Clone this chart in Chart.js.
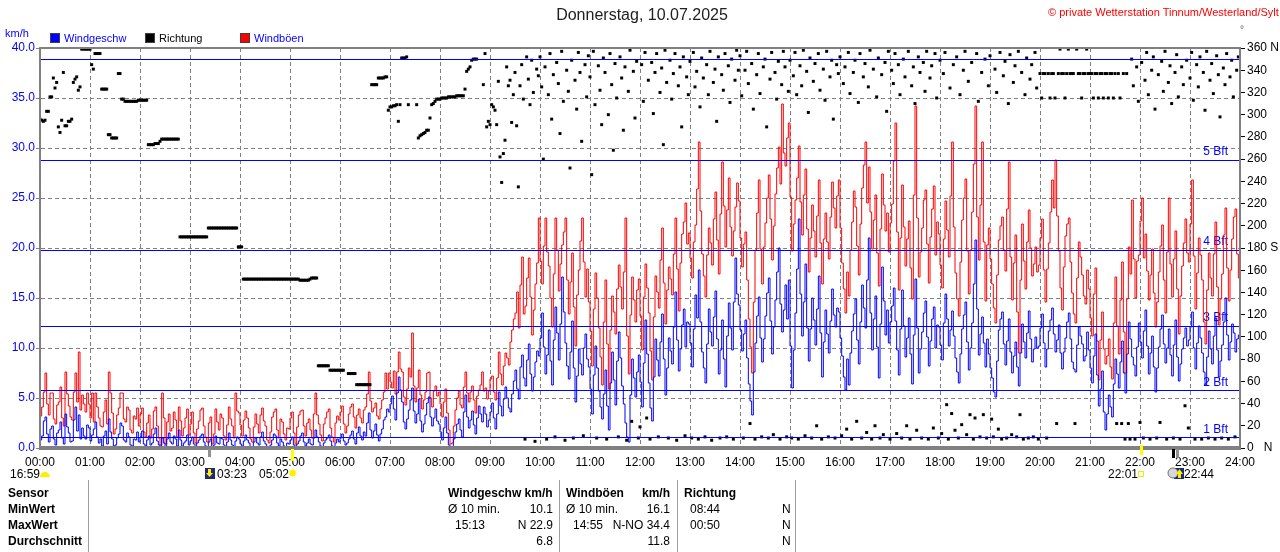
<!DOCTYPE html>
<html><head><meta charset="utf-8">
<script src="https://cdn.jsdelivr.net/npm/chart.js@4/dist/chart.umd.min.js"></script>
<style>
html,body{margin:0;padding:0;background:#fff;width:1280px;height:552px;overflow:hidden;font-family:"Liberation Sans",Arial,sans-serif;}
#c{position:absolute;left:0;top:0;}
.t{position:absolute;white-space:pre;font-size:12px;line-height:14px;color:#000;}
.b{font-weight:bold;}
.vl{position:absolute;top:480px;height:72px;width:1px;background:#a0a0a0;}
.sq{position:absolute;width:10px;height:10px;top:33px;box-sizing:border-box;border:1px solid #404040;}
</style></head>
<body>
<canvas id="c" width="1280" height="552"></canvas>
<div class="t" style="left:542px;width:200px;text-align:center;top:6px;font-size:16px;line-height:18px;color:#202020">Donnerstag, 10.07.2025</div>
<div class="t" style="left:1048px;top:5px;font-size:11px;color:#ff0000">© private Wetterstation Tinnum/Westerland/Sylt</div>
<div class="t" style="left:1240px;top:23px;font-size:10px;color:#606060">°</div>
<div class="t" style="left:5px;top:26px;color:#0000ff;font-size:11px">km/h</div>
<div class="sq" style="left:50px;background:#0000ff"></div>
<div class="t" style="left:64px;top:31px;color:#0000ff;font-size:11px">Windgeschw</div>
<div class="sq" style="left:145px;background:#000"></div>
<div class="t" style="left:159px;top:31px;font-size:11px">Richtung</div>
<div class="sq" style="left:240px;background:#ff0000"></div>
<div class="t" style="left:254px;top:31px;color:#0000ff;font-size:11px">Windböen</div>

<div class="t" style="left:10px;top:467px">16:59</div>
<div class="t" style="left:217px;top:467px">03:23</div>
<div class="t" style="left:259px;top:467px">05:02</div>
<div class="t" style="left:1108px;top:467px">22:01</div>
<div class="t" style="left:1184px;top:467px">22:44</div>

<div class="vl" style="left:88px"></div>
<div class="vl" style="left:559px"></div>
<div class="vl" style="left:677px"></div>
<div class="vl" style="left:795px"></div>
<div class="t b" style="left:8px;top:486px">Sensor</div>
<div class="t b" style="left:8px;top:502px">MinWert</div>
<div class="t b" style="left:8px;top:518px">MaxWert</div>
<div class="t b" style="left:8px;top:534px">Durchschnitt</div>
<div class="t b" style="left:448px;top:486px">Windgeschw km/h</div>
<div class="t" style="left:448px;top:502px">Ø 10 min.</div>
<div class="t" style="right:727px;top:502px">10.1</div>
<div class="t" style="left:455px;top:518px">15:13</div>
<div class="t" style="right:727px;top:518px">N 22.9</div>
<div class="t" style="right:727px;top:534px">6.8</div>
<div class="t b" style="left:566px;top:486px">Windböen</div>
<div class="t b" style="right:610px;top:486px">km/h</div>
<div class="t" style="left:566px;top:502px">Ø 10 min.</div>
<div class="t" style="right:610px;top:502px">16.1</div>
<div class="t" style="left:573px;top:518px">14:55</div>
<div class="t" style="right:610px;top:518px">N-NO 34.4</div>
<div class="t" style="right:610px;top:534px">11.8</div>
<div class="t b" style="left:684px;top:486px">Richtung</div>
<div class="t" style="left:690px;top:502px">08:44</div>
<div class="t" style="left:782px;top:502px">N</div>
<div class="t" style="left:690px;top:518px">00:50</div>
<div class="t" style="left:782px;top:518px">N</div>
<div class="t" style="left:782px;top:534px">N</div>

<script>
// time step (minutes) of the speed / gust series and of the direction series
const speedStep = 2;
const dirStep = 2;

// Windgeschw (km/h), 2-minute values, 30 per hour, last = 24:00
const windSpeed = [
2.5,0.8,1.2,2.7,3.1,1.4,0.6,1.9,2.2,0.9,0.3,1.5,1.8,2.6,1.0,0.4,3.4,2.1,1.5,0.6,0.7,2.8,4.1,1.7,3.3,0.9,2.0,1.2,0.9,2.3,
2.0,0.7,1.3,1.9,2.6,1.1,0.5,0.9,0.2,1.2,1.7,0.4,2.9,1.6,0.9,0.2,0.3,1.0,1.4,2.5,2.2,0.8,0.6,1.5,1.1,0.3,0.2,0.9,0.8,1.6,
0.6,1.1,1.7,0.4,0.2,0.8,1.2,0.3,0.5,1.4,2.0,0.7,0.3,0.0,1.0,0.5,0.0,0.9,1.5,0.6,0.4,1.2,0.9,0.2,1.8,0.8,0.2,0.5,0.7,1.3,
0.3,0.7,1.1,0.4,0.0,0.5,0.8,1.2,1.4,0.6,0.2,0.0,0.6,0.9,0.0,0.3,1.2,0.5,0.4,1.0,0.9,0.3,0.1,0.6,1.5,0.8,0.3,0.0,0.7,1.1,
0.9,0.4,0.2,0.7,1.3,0.8,0.5,0.1,0.0,0.6,1.0,0.5,0.3,1.1,1.6,0.7,0.4,0.0,0.0,0.3,0.8,1.4,1.2,0.5,0.2,0.9,0.6,0.2,0.1,0.5,
0.4,0.8,1.1,0.3,0.0,0.4,0.7,1.2,1.5,0.6,0.2,0.5,0.9,0.4,0.3,1.0,1.8,1.1,0.6,0.2,0.1,0.5,0.8,1.0,1.3,0.7,0.2,0.0,0.5,0.9,
0.6,1.0,1.4,0.7,0.3,0.5,0.9,1.3,1.7,0.9,0.4,1.5,2.1,1.2,0.8,1.6,1.2,2.5,3.5,1.8,1.0,1.7,2.4,1.3,0.7,1.4,1.9,2.8,3.1,3.9,
3.6,4.4,5.2,3.9,2.8,5.5,7.1,5.8,4.6,2.6,1.9,2.9,3.8,4.8,6.0,3.7,2.5,3.4,4.9,2.7,1.6,2.4,3.3,4.5,5.1,3.1,2.2,3.0,3.9,2.7,
2.4,1.6,0.8,2.0,3.1,1.5,0.3,0.0,0.0,0.9,1.6,2.4,2.9,1.8,1.1,3.6,5.3,3.1,2.0,2.8,3.7,2.3,1.4,3.0,4.2,3.4,2.6,4.1,3.4,2.1,
2.8,3.6,4.5,3.0,1.9,3.4,5.6,4.2,3.2,4.9,6.1,5.0,4.0,3.6,5.4,6.7,7.8,5.9,4.9,8.1,9.3,7.0,6.2,8.8,10.4,7.4,5.7,7.1,8.6,9.7,
9.2,11.0,13.5,10.1,7.4,9.3,11.8,8.7,6.3,10.8,14.1,11.5,8.8,12.4,17.1,13.6,10.5,8.2,6.9,9.6,12.7,8.0,4.6,7.2,9.9,8.4,7.3,10.0,11.4,8.9,
8.1,5.9,3.4,7.3,10.2,8.0,5.7,4.1,2.9,5.4,7.8,4.2,1.8,6.5,9.6,6.8,4.3,8.7,11.6,9.0,6.2,4.4,2.5,1.1,0.6,5.3,8.9,7.0,5.1,7.6,
9.3,6.6,4.1,8.5,12.8,9.4,6.5,4.0,2.7,7.1,10.9,8.8,7.2,10.6,13.4,8.9,5.3,8.0,11.0,9.7,8.4,12.1,15.6,10.8,7.7,9.9,12.3,13.9,10.1,12.6,
12.4,10.5,8.1,11.9,15.3,13.0,17.8,12.6,9.6,8.0,6.5,10.4,13.9,11.6,10.2,13.1,15.7,10.9,7.4,9.8,12.8,8.9,6.1,11.2,14.5,12.0,9.8,14.6,19.0,15.4,
14.3,11.8,9.7,11.4,12.8,9.0,6.4,4.7,3.3,7.6,10.5,13.2,15.1,11.0,8.6,10.9,13.2,15.5,17.0,12.7,9.4,12.1,14.8,17.6,20.0,14.4,11.6,13.8,16.3,12.9,
16.8,10.2,6.0,9.8,13.5,17.9,22.9,15.4,11.2,14.6,18.4,12.0,8.7,11.9,15.0,12.8,10.3,13.9,17.2,11.5,7.1,10.6,13.8,11.4,9.5,12.7,15.9,13.3,12.1,14.0,
13.6,11.0,9.2,7.1,5.8,8.9,6.3,9.5,11.7,13.4,14.9,10.8,8.4,12.6,16.3,14.0,12.0,16.8,21.0,13.5,9.8,12.9,15.2,10.1,7.0,12.4,18.1,14.7,11.3,13.8,
10.5,12.6,14.2,16.0,12.7,9.8,7.3,11.9,15.8,12.2,9.1,11.0,13.0,9.4,6.4,11.3,16.9,12.0,7.5,9.9,11.6,13.5,14.7,11.1,8.2,10.7,12.9,14.1,10.0,12.3,
12.1,10.3,8.8,12.5,15.4,12.9,10.2,11.8,13.7,11.2,9.0,7.6,6.5,9.4,11.9,13.3,14.6,10.6,7.8,10.0,12.5,16.4,20.8,13.9,9.3,11.4,13.1,10.5,8.1,10.9,
9.4,8.0,7.0,5.6,5.1,8.7,11.8,12.9,13.6,10.4,8.3,10.7,12.9,9.6,7.5,9.2,10.6,8.1,6.2,9.5,12.4,10.6,9.0,11.5,13.7,10.9,8.6,9.9,11.1,10.0,
10.2,12.0,13.4,10.5,8.1,9.9,11.7,12.8,14.0,11.4,9.6,10.8,12.3,9.5,7.9,9.6,11.0,12.6,13.5,10.9,8.6,7.9,7.6,10.3,12.1,11.2,10.4,8.7,9.2,11.6,
9.8,8.0,6.5,9.2,11.4,7.3,4.2,5.9,7.7,3.6,1.8,3.4,5.3,4.1,3.1,6.4,8.9,7.4,6.0,8.6,10.7,7.5,5.5,9.4,12.6,10.9,9.1,8.3,7.2,10.1,
12.5,10.6,9.0,11.7,13.8,10.2,7.4,9.5,11.2,8.1,5.6,8.0,10.1,11.9,13.3,10.4,8.5,10.0,11.9,9.3,7.2,10.3,12.8,9.1,6.7,8.4,9.9,11.0,12.0,10.2,
10.8,12.1,13.6,10.0,7.9,10.5,12.2,11.0,9.5,7.6,6.3,9.1,11.7,9.9,8.4,11.2,13.0,9.8,7.1,8.7,10.3,12.6,15.0,11.3,8.8,10.6,12.4,11.5,9.6,10.9,
11.3
];

// Windböen (km/h), 2-minute values, 30 per hour, last = 24:00
const windGust = [
7.6,3.2,4.1,5.6,7.5,4.4,3.3,5.5,5.5,2.9,2.4,4.3,4.6,6.1,3.0,2.2,7.6,5.4,4.2,3.1,2.8,5.6,7.5,4.6,9.6,3.8,5.3,4.4,3.6,5.5,
4.4,3.0,5.5,2.6,5.5,4.1,3.0,2.2,2.1,3.6,4.8,2.4,7.6,5.5,3.5,1.4,1.9,3.3,4.0,5.5,5.5,2.9,2.6,4.1,3.8,1.8,1.5,3.2,2.9,4.0,
2.2,3.4,4.0,1.6,1.1,2.5,3.3,1.0,1.9,3.7,4.1,2.2,1.0,0.3,5.5,3.0,0.4,2.6,3.4,1.7,2.0,3.6,2.8,1.1,4.1,2.7,1.2,2.0,3.0,3.9,
1.3,2.4,3.6,1.5,0.5,1.9,2.7,3.8,4.0,2.2,1.1,0.6,2.5,3.1,0.4,1.4,3.9,2.6,1.8,3.4,3.0,1.2,0.8,2.3,4.1,2.9,2.2,1.0,5.5,3.7,
3.5,2.3,1.2,2.8,3.7,3.0,2.0,0.9,0.6,2.1,3.4,2.4,1.5,3.3,4.0,2.7,2.2,0.8,0.5,1.6,3.1,3.6,3.9,1.8,1.0,2.9,2.6,1.4,0.8,2.0,
1.9,3.0,3.6,1.5,0.4,2.1,3.3,3.7,3.8,2.2,1.2,2.5,2.9,1.8,1.0,3.4,5.5,3.3,2.4,1.3,0.7,2.4,3.0,3.6,3.9,2.0,1.1,0.6,2.5,3.2,
2.8,3.6,4.2,2.4,1.5,2.2,3.4,4.1,4.4,3.1,2.0,3.3,3.9,3.0,2.5,3.8,4.1,5.4,7.6,4.7,3.6,4.0,4.5,3.2,2.9,3.9,4.8,5.6,7.5,5.9,
7.5,6.6,6.0,7.7,5.4,7.6,9.6,7.9,7.6,5.1,4.3,5.9,8.0,7.1,11.5,6.2,4.6,6.0,7.8,5.3,3.9,4.8,5.6,7.5,7.6,5.0,4.1,5.7,6.2,5.2,
5.6,4.4,3.1,4.6,5.9,3.5,1.8,0.4,0.5,2.2,3.8,5.0,5.7,4.3,4.0,6.1,7.6,5.5,4.6,5.6,6.2,4.8,3.5,5.2,5.8,6.3,7.6,5.7,6.0,4.9,
5.7,6.9,7.2,5.6,4.8,7.0,9.6,7.4,6.3,8.2,9.5,9.0,8.3,10.6,11.8,12.9,13.5,15.6,12.0,16.3,19.1,13.4,14.2,17.0,19.0,15.1,11.3,13.8,16.4,18.5,
23.0,18.7,16.4,20.2,23.0,19.6,18.2,15.0,12.1,17.4,23.0,19.8,15.7,18.4,20.3,21.6,23.0,16.8,13.4,16.6,19.5,14.1,10.2,15.3,17.8,20.7,23.0,18.6,15.1,17.9,
14.6,11.7,8.2,13.9,17.5,15.0,12.0,9.1,6.3,12.6,16.8,10.4,5.9,11.8,15.2,13.6,11.4,15.9,18.3,16.1,13.9,17.6,23.0,11.2,7.4,13.3,17.1,14.8,12.6,15.8,
16.9,13.2,9.8,15.1,18.4,16.0,13.5,9.7,6.8,13.1,17.2,15.6,14.0,18.8,22.0,16.5,12.4,15.8,18.1,16.9,15.3,19.4,23.0,17.9,13.7,18.5,21.4,22.6,24.5,20.4,
21.5,19.0,17.0,20.6,22.3,25.9,30.6,23.7,19.4,17.2,15.1,19.3,22.0,20.5,18.3,22.9,25.6,20.8,17.4,23.4,28.6,24.2,20.1,23.8,27.0,22.1,19.2,21.7,24.1,26.5,
24.7,21.0,18.1,20.4,21.6,16.8,12.9,10.1,7.5,14.6,19.8,23.5,26.8,19.9,16.4,20.1,22.5,25.0,27.3,22.9,18.8,22.2,25.4,28.0,30.1,26.4,34.4,29.5,28.2,31.0,
32.5,25.1,19.7,22.4,24.8,27.0,30.2,24.6,21.3,25.3,27.9,21.9,17.6,21.0,24.3,21.7,19.1,23.2,26.8,20.5,16.4,20.9,23.5,20.6,18.9,23.1,26.6,24.0,22.0,25.2,
26.8,22.0,18.5,15.9,13.5,17.6,15.2,19.8,22.6,25.7,24.1,20.2,17.3,22.4,26.0,28.3,30.6,24.5,28.1,23.6,19.9,22.8,25.3,19.5,16.2,21.9,27.4,24.3,21.7,23.5,
19.6,22.5,24.4,28.7,32.5,21.6,15.8,21.0,26.3,22.1,18.2,20.9,22.7,18.0,14.9,25.3,34.2,23.0,17.1,19.6,22.0,24.8,25.8,20.4,16.5,21.1,23.9,26.2,19.3,22.6,
21.4,18.3,16.0,20.9,24.7,21.8,19.1,25.2,30.6,22.1,17.5,14.9,13.2,18.6,22.8,25.0,26.9,19.7,15.4,19.8,23.6,28.4,34.2,23.1,18.8,24.3,30.6,20.6,14.7,20.3,
22.0,18.9,16.4,14.0,12.5,17.3,20.8,22.2,23.1,19.8,17.7,23.9,28.6,19.1,14.8,18.5,21.3,13.6,9.5,16.8,22.4,18.7,15.9,20.6,23.8,20.0,17.2,18.4,20.1,17.6,
18.3,21.0,22.9,17.8,14.6,17.9,20.5,23.6,26.8,24.0,28.8,23.2,19.7,16.0,13.8,18.1,21.2,22.4,23.0,18.6,15.5,13.4,12.5,17.0,20.6,19.1,17.3,15.2,14.4,17.8,
15.9,13.0,11.2,15.4,18.0,10.7,6.8,10.8,13.6,9.9,8.4,9.2,10.9,8.1,6.9,12.5,17.1,12.2,9.4,14.8,18.6,11.6,7.5,14.9,20.1,17.4,24.8,18.9,15.0,18.7,
19.3,22.7,25.0,19.0,21.4,17.7,14.8,17.3,19.9,15.5,12.1,14.6,17.6,20.2,22.3,16.8,13.5,19.6,25.0,18.4,15.1,18.9,21.7,15.9,11.4,15.2,18.2,20.5,22.9,19.5,
18.6,22.4,26.8,19.2,13.9,17.5,21.0,19.3,16.8,12.6,10.4,15.8,19.5,17.0,15.2,19.4,22.6,16.1,12.3,14.9,17.4,21.3,24.0,18.0,14.7,17.8,20.9,23.1,23.9,19.4,
17.0
];

// Richtung (degrees), 2-minute values, 30 per hour (null = no reading)
const windDir = [
296,295,294,295,303,303,316,316,333,324,329,289,284,295,338,290,290,294,294,296,329,332,334,322,325,359,359,359,359,359,
359,345,341,355,355,355,355,323,323,323,323,282,282,279,279,279,279,337,337,314,314,312,312,312,312,312,312,312,312,313,
313,313,313,313,313,273,273,273,273,274,274,274,276,278,278,278,278,278,278,278,278,278,278,278,190,190,190,190,190,190,
190,190,190,190,190,190,190,190,190,190,190,198,198,198,198,198,198,198,198,198,198,198,198,198,198,198,198,198,198,181,
181,181,152,152,152,152,152,152,152,152,152,152,152,152,152,152,152,152,152,152,152,152,152,152,152,152,152,152,152,152,
152,152,152,152,152,152,151,151,151,151,151,151,152,153,153,153,153,74,74,74,74,74,74,74,70,70,70,70,70,70,
70,70,70,null,null,67,67,67,67,67,57,57,57,57,57,57,57,57,57,327,327,327,327,333,333,333,333,334,334,304,
307,307,308,308,309,294,309,351,351,351,352,309,null,null,null,null,309,279,281,282,283,284,286,286,297,309,310,312,314,314,
314,315,315,315,315,316,316,316,316,316,317,317,317,317,317,323,339,341,343,349,350,350,350,null,null,null,327,355,289,294,
291,309,307,304,291,330,262,239,265,277,343,326,331,293,318,338,290,235,326,345,314,8,352,332,309,349,320,6,341,335,
352,325,260,343,8,318,355,296,336,10,347,328,283,357,312,7,340,321,252,349,9,331,305,356,338,276,11,345,316,353,
334,246,357,309,9,344,322,291,351,338,8,300,355,327,268,346,315,10,352,333,286,343,7,321,358,24,339,297,348,9,
19,345,312,356,27,331,8,347,301,338,355,10,320,342,273,358,329,9,349,314,337,355,7,326,343,289,352,11,334,318,
348,9,356,325,339,8,307,351,333,10,345,318,357,7,329,341,294,352,9,336,322,355,10,344,311,350,8,331,358,340,
353,317,9,340,357,328,22,346,305,8,336,355,319,10,343,350,289,9,332,356,12,338,314,348,8,327,357,343,10,321,
349,9,335,356,318,8,344,326,358,11,339,302,351,9,330,346,20,355,322,8,341,313,357,10,334,349,296,9,345,337,
352,11,328,343,17,356,319,8,338,349,24,311,355,9,334,346,14,325,358,8,341,20,316,351,9,336,12,347,303,357,
8,340,328,355,13,345,318,9,350,334,20,357,8,326,343,310,16,352,338,9,347,321,357,8,333,344,18,355,315,9,
349,13,337,356,39,8,324,31,345,16,352,9,318,21,340,357,12,330,30,347,8,27,355,312,10,338,30,350,9,326,
353,26,10,341,320,17,356,8,335,348,9,310,354,12,329,344,10,357,30,338,8,318,351,9,332,345,10,356,324,8,
337,315,337,337,9,337,315,337,337,315,22,337,359,337,337,315,337,359,337,337,337,22,359,337,337,315,337,337,359,337,
337,337,315,337,337,315,337,337,315,337,337,315,337,337,315,337,22,337,315,22,337,8,337,22,8,350,326,8,343,312,
23,347,9,331,356,318,8,340,352,305,9,336,23,348,321,357,8,329,344,310,9,338,354,316,8,343,327,38,349,18,
333,356,313,8,345,325,352,8,338,304,357,9,331,346,319,8,353,336,298,9,342,327,355,8,334,349,316,10,340,352
];

// Beaufort thresholds (km/h) and their labels
const bftLevels = [1.08, 5.76, 12.24, 19.8, 28.8, 38.88];
const bftLabels = ['1 Bft', '2 Bft', '3 Bft', '4 Bft', '5 Bft', ''];

// astronomical events (minutes of day): moonset, sunrise, sunset, marker, moonrise
const astroEvents = [203, 302, 1321, 1359, 1364];

const speedPts = windSpeed.map((v, i) => ({x: i * speedStep, y: v}));
const gustPts = windGust.map((v, i) => ({x: i * speedStep, y: v}));
const dirPts = windDir.map((v, i) => ({x: i * dirStep, y: v})).filter(p => p.y !== null);

const FONT = '"Liberation Sans", Arial, sans-serif';
Chart.defaults.font.family = FONT;
Chart.defaults.font.size = 12;
Chart.defaults.color = '#000';

const deco = {
  id: 'deco',
  beforeDatasetsDraw(chart) {
    const {ctx, chartArea: a, scales} = chart;
    ctx.save();
    ctx.fillStyle = '#0000ff';
    ctx.font = '12px ' + FONT;
    ctx.textAlign = 'right';
    ctx.textBaseline = 'middle';
    bftLevels.forEach((lv, i) => {
      if (bftLabels[i]) ctx.fillText(bftLabels[i], a.right - 12, scales.y.getPixelForValue(lv) - 8);
    });
    ctx.restore();
  },
  afterDatasetsDraw(chart) {
    const {ctx, chartArea: a, scales} = chart;
    ctx.save();
    ctx.strokeStyle = '#0000ff';
    ctx.lineWidth = 1;
    bftLevels.forEach(lv => {
      const y = Math.round(scales.y.getPixelForValue(lv)) + 0.5;
      ctx.beginPath(); ctx.moveTo(a.left, y); ctx.lineTo(a.right, y); ctx.stroke();
    });
    ctx.strokeStyle = '#808080';
    ctx.lineWidth = 2;
    ctx.strokeRect(a.left, a.top, a.right - a.left, a.bottom - a.top);
    ctx.fillStyle = '#808080';
    ctx.fillRect(a.left - 1, a.bottom - 2, a.right - a.left + 2, 3);
    ctx.restore();
  },
  afterDraw(chart) {
    const {ctx, chartArea: a, scales} = chart;
    const xs = scales.x;
    const cols = ['#909090', '#ffff00', '#ffff00', '#000000', '#909090'];
    const lens = [8, 12, 10, 9, 9];
    ctx.save();
    astroEvents.forEach((t, i) => {
      const px = Math.round(xs.getPixelForValue(t));
      ctx.fillStyle = cols[i];
      ctx.fillRect(px - 1, a.bottom + (i === 2 ? -3 : 1), 3, lens[i]);
    });
    const x0 = xs.getPixelForValue(0);
    ctx.fillStyle = '#ffee00';
    ctx.beginPath(); ctx.arc(x0 + 5, 477, 5, Math.PI, 0); ctx.fill();
    let px = Math.round(xs.getPixelForValue(astroEvents[0]));
    ctx.fillStyle = '#1c2a78'; ctx.fillRect(px - 4, 468, 10, 11);
    ctx.fillStyle = '#ffee00';
    ctx.fillRect(px - 1, 469, 3, 5);
    ctx.beginPath(); ctx.moveTo(px - 3, 473); ctx.lineTo(px + 4, 473); ctx.lineTo(px + 0.5, 477); ctx.fill();
    px = xs.getPixelForValue(astroEvents[1]) + 1;
    ctx.strokeStyle = '#ffff99'; ctx.lineWidth = 1;
    for (let k = 0; k < 8; k++) {
      const ang = k * Math.PI / 4;
      ctx.beginPath(); ctx.moveTo(px + Math.cos(ang) * 3, 473 + Math.sin(ang) * 3);
      ctx.lineTo(px + Math.cos(ang) * 5.5, 473 + Math.sin(ang) * 5.5); ctx.stroke();
    }
    ctx.fillStyle = '#ffee00';
    ctx.beginPath(); ctx.arc(px, 473, 3.2, 0, Math.PI * 2); ctx.fill();
    px = Math.round(xs.getPixelForValue(astroEvents[2]));
    ctx.strokeStyle = '#eeee00'; ctx.lineWidth = 1;
    ctx.strokeRect(px - 2.5, 471.5, 5, 5);
    px = Math.round(xs.getPixelForValue(astroEvents[4]));
    ctx.fillStyle = '#1c2a78'; ctx.fillRect(px - 3, 468, 10, 11);
    ctx.fillStyle = '#d8d8d8'; ctx.strokeStyle = '#707070';
    ctx.beginPath(); ctx.arc(px - 4, 473, 5, 0, Math.PI * 2); ctx.fill(); ctx.stroke();
    ctx.fillStyle = '#ffee00';
    ctx.fillRect(px + 1, 473, 3, 5);
    ctx.beginPath(); ctx.moveTo(px - 1, 474); ctx.lineTo(px + 6, 474); ctx.lineTo(px + 2.5, 469); ctx.fill();
    ctx.restore();
  }
};

new Chart(document.getElementById('c'), {
  type: 'line',
  data: {
    datasets: [
      {label: 'Richtung', data: dirPts, yAxisID: 'yR', showLine: false, pointStyle: 'rect',
       pointRadius: 2.1, pointBorderWidth: 0, pointBackgroundColor: '#000', borderColor: '#000', order: 0},
      {label: 'Windgeschw', data: speedPts, yAxisID: 'y', borderColor: '#0000ff', borderWidth: 1,
       pointRadius: 0, stepped: 'after', order: 1},
      {label: 'Windböen', data: gustPts, yAxisID: 'y', borderColor: '#ff0000', borderWidth: 1,
       pointRadius: 0, stepped: 'after', order: 2}
    ]
  },
  options: {
    responsive: false, animation: false, devicePixelRatio: 1, events: [],
    layout: {padding: {left: 0, right: 0, top: 48, bottom: 0}},
    plugins: {legend: {display: false}, tooltip: {enabled: false}},
    scales: {
      x: {
        type: 'linear', min: 0, max: 1440,
        afterFit(s) { s.height = 104; },
        ticks: {stepSize: 60, autoSkip: false, maxRotation: 0, padding: 7, color: '#000',
          callback: v => (v / 60 < 10 ? '0' : '') + (v / 60) + ':00'},
        grid: {color: '#808080', drawTicks: false, lineWidth: 1},
        border: {display: true, color: '#808080', width: 3, dash: [4, 3]}
      },
      y: {
        position: 'left', min: 0, max: 40,
        afterFit(s) { s.width = 40; },
        ticks: {stepSize: 5, color: '#0000ff', padding: 1, callback: v => v.toFixed(1)},
        grid: {color: '#808080', tickLength: 4, tickColor: '#808080'},
        border: {display: true, color: '#808080', width: 2, dash: [4, 3]}
      },
      yR: {
        position: 'right', min: 0, max: 360,
        afterFit(s) { s.width = 40; },
        ticks: {stepSize: 20, color: '#000', padding: 2,
          callback: v => v === 360 ? '360 N' : v === 0 ? '0   N' : v === 180 ? '180 S' : String(v)},
        grid: {drawOnChartArea: false, tickLength: 5, tickColor: '#000'},
        border: {display: true, color: '#808080', width: 2}
      }
    }
  },
  plugins: [deco]
});
</script>
</body></html>
